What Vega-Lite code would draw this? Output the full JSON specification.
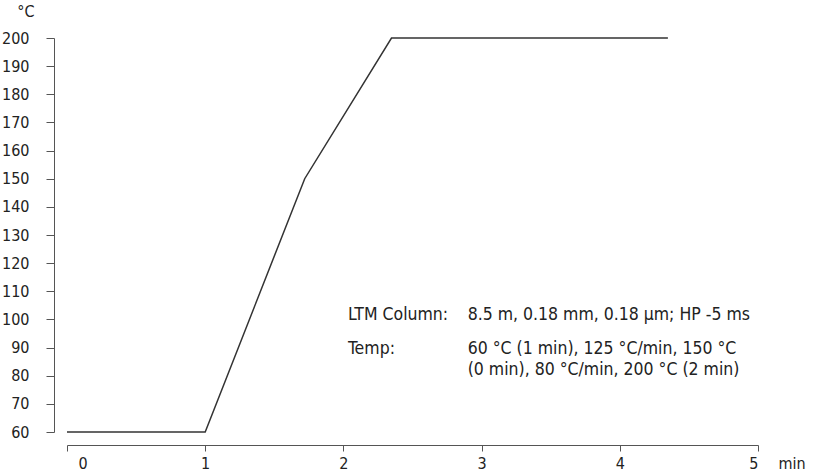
{
  "$schema": "https://vega.github.io/schema/vega-lite/v6.json",
  "width": 691,
  "height": 394,
  "padding": {"left": 67, "top": 38, "right": 60, "bottom": 42},
  "autosize": {"type": "none"},
  "background": "white",
  "config": {
    "view": {"stroke": null},
    "font": "DejaVu Sans Condensed, Roboto",
    "axis": {"grid": false, "labelFont": "DejaVu Sans Condensed, Roboto", "titleFont": "DejaVu Sans Condensed, Roboto", "labelColor": "#222", "titleColor": "#222", "domainColor": "#555", "tickColor": "#555", "labelFontSize": 16, "titleFontSize": 16, "titleFontWeight": "normal", "labelOverlap": false}
  },
  "encoding": {
    "x": {"field": "t", "type": "quantitative", "scale": {"domain": [0, 5], "nice": false, "zero": false},
      "axis": {"values": [0, 1, 2, 3, 4, 5], "format": "d", "offset": 13, "tickSize": 6, "labelPadding": 4, "labelOffset": {"expr": "datum.value == 0 ? 11 : 0"},
        "title": "min", "titleAlign": "left", "titleAnchor": null, "titleX": 711, "titleY": 18, "titleBaseline": "middle"}},
    "y": {"field": "temp", "type": "quantitative", "scale": {"domain": [60, 200], "nice": false, "zero": false},
      "axis": {"values": [60, 70, 80, 90, 100, 110, 120, 130, 140, 150, 160, 170, 180, 190, 200], "offset": 13, "tickSize": 8, "labelPadding": 17,
        "title": "°C", "titleAngle": 0, "titleAlign": "right", "titleAnchor": null, "titleX": -20, "titleY": -27, "titleBaseline": "middle"}}
  },
  "layer": [
    {
      "data": {"values": [
        {"t": 0, "temp": 60},
        {"t": 1, "temp": 60},
        {"t": 1.72, "temp": 150},
        {"t": 2.348, "temp": 200},
        {"t": 4.348, "temp": 200}
      ]},
      "mark": {"type": "line", "color": "#333", "strokeWidth": 1.5}
    },
    {
      "data": {"values": [
        {"t": 2.033, "temp": 101.6, "label": "LTM Column:"},
        {"t": 2.899, "temp": 101.6, "label": "8.5 m, 0.18 mm, 0.18 µm; HP -5 ms"},
        {"t": 2.033, "temp": 89.4, "label": "Temp:"},
        {"t": 2.899, "temp": 89.4, "label": "60 °C (1 min), 125 °C/min, 150 °C"},
        {"t": 2.899, "temp": 82.0, "label": "(0 min), 80 °C/min, 200 °C (2 min)"}
      ]},
      "mark": {"type": "text", "align": "left", "baseline": "middle", "fontSize": 17.5, "color": "#222", "font": "DejaVu Sans Condensed, Roboto"},
      "encoding": {
        "text": {"field": "label"}
      }
    }
  ]
}
